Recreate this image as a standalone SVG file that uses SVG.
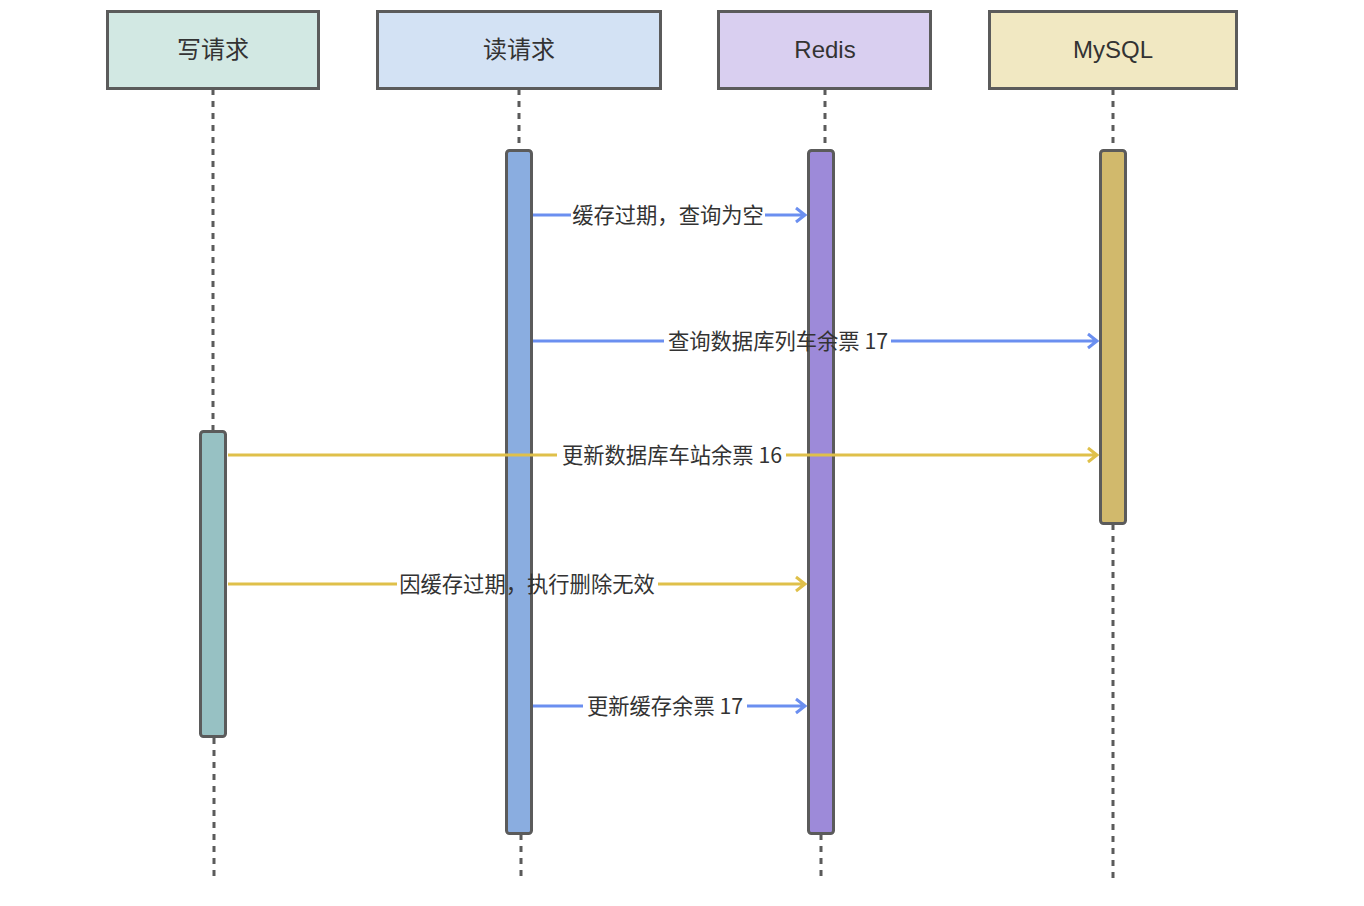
<svg xmlns="http://www.w3.org/2000/svg" width="1364" height="906" viewBox="0 0 1364 906">
<defs>
<style>
.box{stroke:#5b5b5b;stroke-width:3}
.hdr{font-family:"Liberation Sans","Noto Sans CJK SC",sans-serif;font-size:24px;fill:#333;text-anchor:middle}
.life{stroke:#5b5b5b;stroke-width:3;stroke-dasharray:6 6;fill:none}
.bar{stroke:#5b5b5b;stroke-width:3}
.blue{stroke:#6b8ff0;stroke-width:3;fill:none}
.yel{stroke:#dfc04a;stroke-width:3;fill:none}
.lbl{font-family:"Noto Sans CJK SC","Liberation Sans",sans-serif;font-size:21.3px;fill:#333;text-anchor:middle}
</style>
</defs>
<rect width="1364" height="906" fill="#fff"/>
<g id="lifelines">
<path class="life" d="M213 89V431M214 738V880"/>
<path class="life" d="M519 89V150M521 834V880"/>
<path class="life" d="M825 89V150M821 834V880"/>
<path class="life" d="M1113 89V150M1113 524V880"/>
</g>
<g id="node-write">
<rect class="box" x="107.5" y="11.5" width="211" height="77" fill="#d2e8e3"/>
<text class="hdr" x="213" y="58">写请求</text>
<rect class="bar" x="200.5" y="431.5" width="25" height="305" rx="3" fill="#97c1c3"/>
</g>
<g id="node-read">
<rect class="box" x="377.5" y="11.5" width="283" height="77" fill="#d3e2f4"/>
<text class="hdr" x="519" y="58">读请求</text>
<rect class="bar" x="506.5" y="150.5" width="25" height="683" rx="3" fill="#8aade0"/>
</g>
<g id="node-redis">
<rect class="box" x="718.5" y="11.5" width="212" height="77" fill="#d9cff0"/>
<text class="hdr" x="825" y="58">Redis</text>
<rect class="bar" x="808.5" y="150.5" width="25" height="683" rx="3" fill="#9d8ad9"/>
</g>
<g id="node-mysql">
<rect class="box" x="989.5" y="11.5" width="247" height="77" fill="#f1e8c2"/>
<text class="hdr" x="1113" y="58">MySQL</text>
<rect class="bar" x="1100.5" y="150.5" width="25" height="373" rx="3" fill="#d1b96c"/>
</g>
<g id="connectors">
<path class="blue" d="M533 215H571M765 215H805M796 208L805 215L796 222"/>
<text class="lbl" x="668" y="223">缓存过期，查询为空</text>
<path class="blue" d="M533 341H664M891 341H1097M1088 334L1097 341L1088 348"/>
<text class="lbl" x="778" y="349">查询数据库列车余票 17</text>
<path class="yel" d="M228 455H557M786 455H1097M1088 448L1097 455L1088 462"/>
<text class="lbl" x="672" y="463">更新数据库车站余票 16</text>
<path class="yel" d="M228 584H397M658 584H805M796 577L805 584L796 591"/>
<text class="lbl" x="527" y="592">因缓存过期，执行删除无效</text>
<path class="blue" d="M533 706H583M747 706H805M796 699L805 706L796 713"/>
<text class="lbl" x="665" y="714">更新缓存余票 17</text>
</g>
</svg>
